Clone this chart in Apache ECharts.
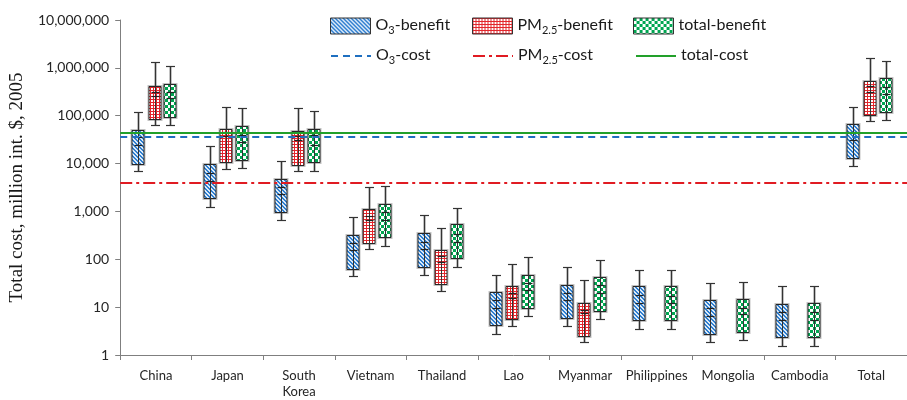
<!DOCTYPE html>
<html>
<head>
<meta charset="utf-8">
<script src="https://cdn.jsdelivr.net/npm/echarts@6/dist/echarts.min.js"></script>
<style>
  html, body { margin: 0; padding: 0; background: #fff; }
  #chart { width: 907px; height: 400px; }
</style>
</head>
<body>
<div id="chart"></div>
<script>
// Countries on the horizontal axis
const categories = ['China', 'Japan', 'South\nKorea', 'Vietnam', 'Thailand', 'Lao',
  'Myanmar', 'Philippines', 'Mongolia', 'Cambodia', 'Total'];

// Each row: [whisker low, box low, lower mark, upper mark, box high, whisker high]
const o3Benefit = [
  [6900, 10000, 24900, 35300, 49400, 119000],
  [1250, 1870, 4420, 6500, 9860, 22900],
  [670, 953, 2340, 3210, 4800, 11400],
  [44, 64, 156, 219, 327, 762],
  [48, 70, 167, 234, 360, 826],
  [2.78, 4.15, 9.8, 13.8, 20.8, 48],
  [3.96, 5.8, 14.2, 20.2, 29.7, 70],
  [3.54, 5.36, 12.5, 17.8, 27, 60],
  [1.87, 2.78, 6.6, 9.4, 13.8, 31.6],
  [1.56, 2.34, 5.44, 7.75, 11.7, 27.8],
  [8960, 13100, 31600, 44900, 67100, 151000]
];

const pm25Benefit = [
  [62900, 83800, 257000, 312000, 416000, 1315000],
  [7750, 10700, 37000, 44900, 53600, 151000],
  [7150, 9530, 31600, 37000, 48000, 142000],
  [162, 222, 660, 800, 1137, 3270],
  [22, 31, 89, 115, 156, 457],
  [4.08, 5.54, 15.6, 20.2, 27.4, 81],
  [1.87, 2.49, 7.5, 8.9, 12.5, 37],
  null,
  null,
  null,
  [77500, 105000, 312000, 408000, 519000, 1592000]
];

const totalBenefit = [
  [62900, 94000, 230000, 312000, 471000, 1117000],
  [8000, 12100, 28300, 40200, 61900, 144600],
  [6900, 10700, 24000, 39000, 52800, 123000],
  [187, 287, 660, 968, 1446, 3370],
  [68, 105, 234, 343, 536, 1172],
  [6.4, 9.4, 22.6, 32.7, 48, 114],
  [5.7, 8.5, 20.2, 28.7, 42.8, 96.8],
  [3.54, 5.36, 12.5, 17.2, 27, 60],
  [2.02, 2.97, 7.26, 9.7, 14.9, 33.7],
  [1.56, 2.37, 5.5, 7.75, 12.3, 27.8],
  [79800, 119000, 287000, 396000, 600000, 1378000]
];

// Cost levels (horizontal reference lines)
const o3Cost = 36000;
const pm25Cost = 3900;
const totalCost = 45000;

// ---- fill patterns ----
function makePattern(size, draw) {
  const c = document.createElement('canvas');
  c.width = size; c.height = size;
  const ctx = c.getContext('2d');
  draw(ctx, size);
  return { image: c, repeat: 'repeat' };
}
const bluePattern = makePattern(4, (ctx, s) => {
  ctx.fillStyle = '#dceaf8';
  ctx.fillRect(0, 0, s, s);
  ctx.fillStyle = '#2f7fd0';
  for (let i = 0; i < s; i++) {
    ctx.fillRect(i, i, 1, 1);
    ctx.fillRect((i + 1) % s, i, 1, 1);
  }
});
const redPattern = makePattern(3, (ctx, s) => {
  ctx.fillStyle = '#ffffff';
  ctx.fillRect(0, 0, s, s);
  ctx.fillStyle = '#e3262c';
  ctx.fillRect(0, 0, s, 1);
  ctx.fillRect(0, 0, 1, s);
});
const greenPattern = makePattern(6, (ctx, s) => {
  ctx.fillStyle = '#ffffff';
  ctx.fillRect(0, 0, s, s);
  ctx.fillStyle = '#00a651';
  ctx.fillRect(0, 0, 3, 3);
  ctx.fillRect(3, 3, 3, 3);
});

function toItems(rows) {
  const out = [];
  rows.forEach((r, i) => { if (r) out.push([i].concat(r)); });
  return out;
}

// Draws one box: whisker, caps, patterned box, two inner marks
function boxRenderer(offset, fill) {
  return function (params, api) {
    const idx = api.value(0);
    const band = params.coordSys.width / categories.length;
    const base = api.coord([idx, api.value(1)]);
    const cx = Math.round(base[0] + offset * band) + 0.5;
    const y = [1, 2, 3, 4, 5, 6].map(k => Math.round(api.coord([idx, api.value(k)])[1]) + 0.5);
    const bw = band * 0.17;
    const cap = 4.5;
    const mark = 4;
    const dark = '#262626';
    const halo = 'rgba(120,120,120,0.45)';
    return {
      type: 'group',
      children: [
        { type: 'line', shape: { x1: cx, y1: y[5], x2: cx, y2: y[0] }, style: { stroke: halo, lineWidth: 3 } },
        { type: 'rect', shape: { x: Math.round(cx - bw / 2), y: y[4], width: Math.round(bw), height: y[1] - y[4] },
          style: { fill: fill, stroke: halo, lineWidth: 3 } },
        { type: 'rect', shape: { x: Math.round(cx - bw / 2), y: y[4], width: Math.round(bw), height: y[1] - y[4] },
          style: { fill: fill, stroke: dark, lineWidth: 1 } },
        { type: 'line', shape: { x1: cx, y1: y[5], x2: cx, y2: y[0] }, style: { stroke: '#333', lineWidth: 1 } },
        { type: 'line', shape: { x1: cx - cap, y1: y[5], x2: cx + cap, y2: y[5] }, style: { stroke: '#333', lineWidth: 1.2 } },
        { type: 'line', shape: { x1: cx - cap, y1: y[0], x2: cx + cap, y2: y[0] }, style: { stroke: '#333', lineWidth: 1.2 } },
        { type: 'line', shape: { x1: cx - mark, y1: y[2], x2: cx + mark, y2: y[2] }, style: { stroke: '#222', lineWidth: 1.2 } },
        { type: 'line', shape: { x1: cx - mark, y1: y[3], x2: cx + mark, y2: y[3] }, style: { stroke: '#222', lineWidth: 1.2 } }
      ]
    };
  };
}

function costSeries(name, value, color, dash) {
  return {
    name: name,
    type: 'line',
    data: [],
    symbol: 'none',
    lineStyle: { color: color, width: 2, type: dash },
    itemStyle: { color: color },
    markLine: {
      silent: true,
      symbol: ['none', 'none'],
      label: { show: false },
      lineStyle: { color: color, width: 2, type: dash },
      data: [{ yAxis: value }]
    }
  };
}

const legendFont = 'Lato, "Open Sans", sans-serif';
const richNames = {
  'O3-benefit': '{n|O}{s|3}{n|-benefit}',
  'PM2.5-benefit': '{n|PM}{s|2.5}{n|-benefit}',
  'total-benefit': '{n|total-benefit}',
  'O3-cost': '{n|O}{s|3}{n|-cost}',
  'PM2.5-cost': '{n|PM}{s|2.5}{n|-cost}',
  'total-cost': '{n|total-cost}'
};
function legendAt(name, left, top, isLine) {
  return {
    data: [name],
    left: left,
    top: top,
    icon: isLine ? undefined : 'rect',
    itemWidth: 40,
    itemHeight: isLine ? 14 : 16,
    itemGap: 0,
    selectedMode: false,
    // line entries show only the stroke, no point marker
    itemStyle: isLine ? { opacity: 0, color: 'rgba(0,0,0,0)', borderWidth: 0 } : { borderColor: '#333', borderWidth: 1 },
    formatter: n => richNames[n],
    textStyle: {
      color: '#1a1a1a',
      fontFamily: legendFont,
      rich: {
        n: { fontSize: 16, fontFamily: legendFont, color: '#1a1a1a', lineHeight: 18, verticalAlign: 'top' },
        s: { fontSize: 11, fontFamily: legendFont, color: '#1a1a1a', lineHeight: 11, verticalAlign: 'top', padding: [8, 0, 0, 0] }
      }
    }
  };
}

const chart = echarts.init(document.getElementById('chart'), null, { renderer: 'canvas' });
chart.setOption({
  animation: false,
  backgroundColor: '#ffffff',
  grid: { left: 107, top: 20, width: 808, height: 336 },
  legend: [
    legendAt('O3-benefit', 325, 12, false),
    legendAt('PM2.5-benefit', 467, 12, false),
    legendAt('total-benefit', 628, 12, false),
    legendAt('O3-cost', 325, 42, true),
    legendAt('PM2.5-cost', 467, 42, true),
    legendAt('total-cost', 630, 42, true)
  ],
  xAxis: {
    type: 'category',
    data: categories,
    boundaryGap: true,
    axisLine: { lineStyle: { color: '#7f7f7f', width: 1 } },
    axisTick: { show: true, alignWithLabel: false, interval: 0, length: 5, lineStyle: { color: '#7f7f7f' } },
    axisLabel: { interval: 0, margin: 13, color: '#262626', fontSize: 13, lineHeight: 16, fontFamily: legendFont },
    splitLine: { show: false }
  },
  yAxis: {
    type: 'log',
    logBase: 10,
    min: 1,
    max: 10000000,
    name: 'Total cost, million int. $, 2005',
    nameLocation: 'middle',
    nameRotate: 90,
    nameGap: 69,
    nameTextStyle: { fontFamily: '"Liberation Serif", serif', fontSize: 19, color: '#1a1a1a' },
    axisLine: { show: true, lineStyle: { color: '#7f7f7f', width: 1 } },
    axisTick: { show: true, length: 5, lineStyle: { color: '#7f7f7f' } },
    minorTick: { show: false },
    splitLine: { show: false },
    axisLabel: {
      margin: 11,
      color: '#262626',
      fontSize: 14,
      fontFamily: legendFont,
      formatter: v => Math.round(v).toLocaleString('en-US')
    }
  },
  series: [
    {
      name: 'O3-benefit', type: 'custom', renderItem: boxRenderer(-0.249, bluePattern),
      itemStyle: { color: bluePattern }, encode: { x: 0, y: [1, 2, 3, 4, 5, 6] }, data: toItems(o3Benefit), z: 3
    },
    {
      name: 'PM2.5-benefit', type: 'custom', renderItem: boxRenderer(-0.02, redPattern),
      itemStyle: { color: redPattern }, encode: { x: 0, y: [1, 2, 3, 4, 5, 6] }, data: toItems(pm25Benefit), z: 3
    },
    {
      name: 'total-benefit', type: 'custom', renderItem: boxRenderer(0.203, greenPattern),
      itemStyle: { color: greenPattern }, encode: { x: 0, y: [1, 2, 3, 4, 5, 6] }, data: toItems(totalBenefit), z: 3
    },
    costSeries('O3-cost', o3Cost, '#1f6fc0', [7, 5]),
    costSeries('PM2.5-cost', pm25Cost, '#e01b22', [12, 4, 3, 4]),
    costSeries('total-cost', totalCost, '#22a02a', 'solid')
  ]
});
</script>
</body>
</html>
